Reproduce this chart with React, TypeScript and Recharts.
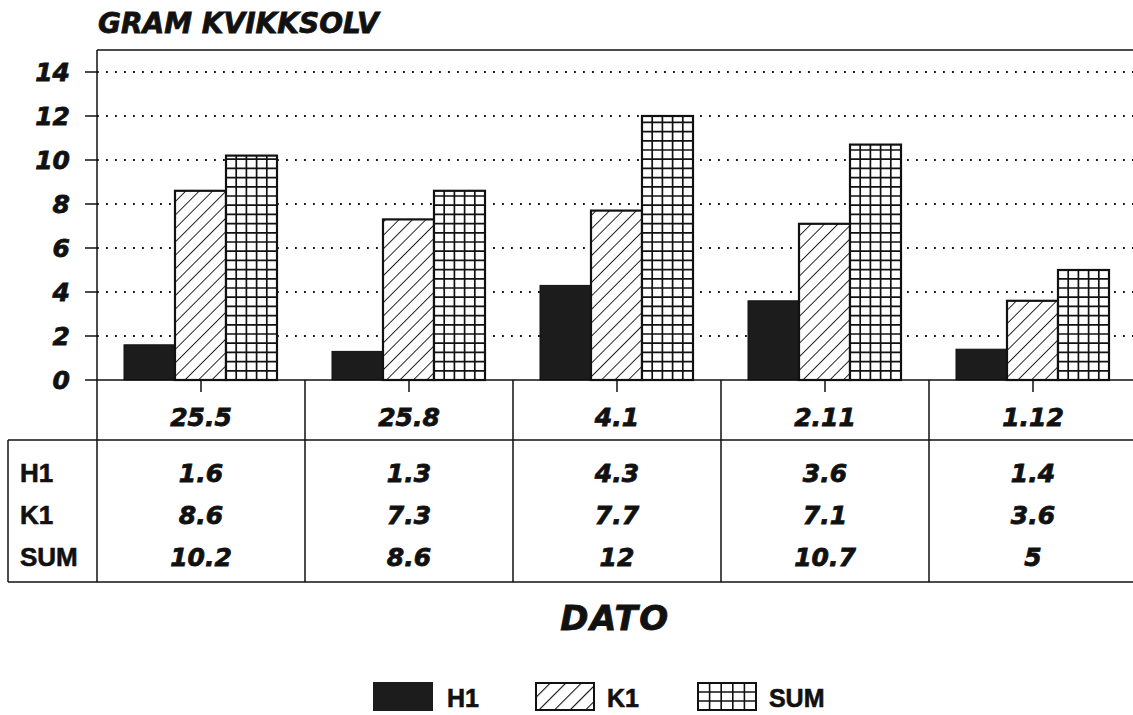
import React from 'react';
import { BarChart, Bar, XAxis, YAxis, CartesianGrid, ReferenceLine, Legend } from 'recharts';

const DATES = ['25.5', '25.8', '4.1', '2.11', '1.12'];
const H1 = [1.6, 1.3, 4.3, 3.6, 1.4];
const K1 = [8.6, 7.3, 7.7, 7.1, 3.6];
const SUM = [10.2, 8.6, 12, 10.7, 5];
const SUM_LABELS = ['10.2', '8.6', '12', '10.7', '5'];
const Y_TICKS = [0, 2, 4, 6, 8, 10, 12, 14];
const ROW_NAMES = ['H1', 'K1', 'SUM'];

const data = DATES.map((d, i) => ({ dato: d, H1: H1[i], K1: K1[i], SUM: SUM[i], sumLabel: SUM_LABELS[i] }));

const INK = '#111';
const NUM_FONT = {
  fontFamily: 'DejaVu Sans',
  fontStyle: 'italic',
  fontWeight: 'bold' as const,
  stroke: INK,
  strokeWidth: 0.8,
};
const LBL_FONT = { fontFamily: 'Liberation Sans', fontWeight: 'bold' as const, stroke: INK, strokeWidth: 0.6 };

const GridShape = (props: any) => {
  const { x, y, width, height } = props;
  if (!height || height <= 0) return null;
  const lines: React.ReactNode[] = [];
  const cols = 5;
  for (let c = 1; c < cols; c++) {
    const lx = x + (width * c) / cols;
    lines.push(<line key={'v' + c} x1={lx} y1={y} x2={lx} y2={y + height} stroke={INK} strokeWidth={1.7} />);
  }
  const step = 9.2;
  for (let yy = y + height - step; yy > y + 2; yy -= step) {
    lines.push(<line key={'h' + yy} x1={x} y1={yy} x2={x + width} y2={yy} stroke={INK} strokeWidth={1.7} />);
  }
  return (
    <g>
      <rect x={x} y={y} width={width} height={height} fill="#fff" />
      {lines}
      <rect x={x} y={y} width={width} height={height} fill="none" stroke={INK} strokeWidth={2.2} />
    </g>
  );
};

const HatchShape = (props: any) => {
  const { x, y, width, height } = props;
  if (!height || height <= 0) return null;
  return (
    <g>
      <rect x={x} y={y} width={width} height={height} fill="url(#hatch)" />
      <rect x={x} y={y} width={width} height={height} fill="none" stroke={INK} strokeWidth={2.2} />
    </g>
  );
};

const SolidShape = (props: any) => {
  const { x, y, width, height } = props;
  if (!height || height <= 0) return null;
  return <rect x={x} y={y} width={width} height={height} fill="#1c1c1c" stroke={INK} strokeWidth={1} />;
};

const TableTick = (props: any) => {
  const { x, y, index, payload } = props;
  const n = props.visibleTicksCount || DATES.length;
  const band = (props.width || 1040) / n;
  const left = x - band / 2;
  const rowY = [473, 515, 557].map((v) => y + (v - 380));
  const vals = [H1[index], K1[index], SUM_LABELS[index]];
  const tableLeft = left - 89;
  return (
    <g>
      <line x1={x} y1={y} x2={x} y2={y + 12} stroke={INK} strokeWidth={1.5} />
      <line x1={left} y1={y} x2={left} y2={y + 202} stroke={INK} strokeWidth={1.5} />
      <text x={x} y={y + 37} textAnchor="middle" dominantBaseline="central" fontSize={25} fill={INK} {...NUM_FONT}>
        {payload.value}
      </text>
      {vals.map((v, r) => (
        <text key={r} x={x} y={rowY[r]} textAnchor="middle" dominantBaseline="central" fontSize={25} fill={INK} {...NUM_FONT}>
          {String(v)}
        </text>
      ))}
      {index === 0 && (
        <g>
          <line x1={tableLeft} y1={y + 60} x2={left + band * n + 20} y2={y + 60} stroke={INK} strokeWidth={1.5} />
          <line x1={tableLeft} y1={y + 202} x2={left + band * n + 20} y2={y + 202} stroke={INK} strokeWidth={1.5} />
          <line x1={tableLeft} y1={y + 60} x2={tableLeft} y2={y + 202} stroke={INK} strokeWidth={1.5} />
          {ROW_NAMES.map((nm, r) => (
            <text key={nm} x={tableLeft + 12} y={rowY[r]} dominantBaseline="central" fontSize={26} fill={INK} {...LBL_FONT}>
              {nm}
            </text>
          ))}
        </g>
      )}
    </g>
  );
};

const YTick = (props: any) => {
  const { x, y, payload } = props;
  return (
    <text x={x} y={y} textAnchor="end" dominantBaseline="central" fontSize={25} fill={INK} {...NUM_FONT}>
      {payload.value}
    </text>
  );
};

const Swatch = ({ kind }: { kind: string }) => {
  if (kind === 'H1') return <svg width={60} height={29}><rect x={0} y={0} width={60} height={29} fill="#1c1c1c" /></svg>;
  if (kind === 'K1')
    return (
      <svg width={60} height={29}>
        <rect x={1} y={1} width={58} height={27} fill="url(#hatchL)" stroke={INK} strokeWidth={2} />
        <defs>
          <pattern id="hatchL" patternUnits="userSpaceOnUse" width={11} height={11} patternTransform="rotate(45)">
            <rect x={0} y={0} width={11} height={11} fill="#fff" />
            <line x1={0} y1={0} x2={0} y2={11} stroke={INK} strokeWidth={2.2} />
          </pattern>
        </defs>
      </svg>
    );
  const v = [1, 2, 3, 4].map((c) => 1 + (58 * c) / 5);
  const h = [1, 2].map((r) => 1 + (27 * r) / 3);
  return (
    <svg width={60} height={29}>
      <rect x={1} y={1} width={58} height={27} fill="#fff" stroke={INK} strokeWidth={2} />
      {v.map((lx) => <line key={'v' + lx} x1={lx} y1={1} x2={lx} y2={28} stroke={INK} strokeWidth={1.6} />)}
      {h.map((ly) => <line key={'h' + ly} x1={1} y1={ly} x2={59} y2={ly} stroke={INK} strokeWidth={1.6} />)}
    </svg>
  );
};

const LegendContent = () => (
  <div style={{ display: 'flex', alignItems: 'center' }}>
    {ROW_NAMES.map((nm, i) => (
      <div key={nm} style={{ display: 'flex', alignItems: 'center', marginRight: i === 0 ? 56 : 58 }}>
        <Swatch kind={nm} />
        <span
          style={{
            marginLeft: nm === 'H1' ? 14 : 12,
            fontSize: 25,
            color: INK,
            fontFamily: 'Liberation Sans',
            fontWeight: 'bold',
            lineHeight: '29px',
            paddingTop: 4,
            WebkitTextStroke: '0.6px #111',
          }}
        >
          {nm}
        </span>
      </div>
    ))}
  </div>
);

export default function App() {
  return (
    <div style={{ position: 'absolute', left: 0, top: 0, width: 1133, height: 715, overflow: 'hidden', background: '#fff' }}>
      <BarChart
        width={1150}
        height={715}
        data={data}
        margin={{ top: 50, right: 13, bottom: 85, left: 0 }}
        barCategoryGap={27}
        barGap={0}
      >
        <defs>
          <pattern id="hatch" patternUnits="userSpaceOnUse" width={9.5} height={9.5} patternTransform="rotate(45)">
            <rect x={0} y={0} width={9.5} height={9.5} fill="#fff" />
            <line x1={0} y1={0} x2={0} y2={9.5} stroke={INK} strokeWidth={1.8} />
          </pattern>
        </defs>
        <CartesianGrid
          vertical={false}
          horizontalValues={[2, 4, 6, 8, 10, 12, 14]}
          stroke={INK}
          strokeWidth={1.8}
          strokeDasharray="1.8 7.2"
        />
        <ReferenceLine y={15} stroke={INK} strokeWidth={1.5} />
        <XAxis
          dataKey="dato"
          height={250}
          tickSize={0}
          tickMargin={0}
          tickLine={false}
          axisLine={{ stroke: INK, strokeWidth: 1.5 }}
          interval={0}
          tick={<TableTick />}
          label={{
            content: (p: any) => {
              const vb = p.viewBox || { x: 97, y: 380, width: 1040, height: 250 };
              return (
                <text x={615} y={vb.y + vb.height} textAnchor="middle" fontSize={34} fill={INK} letterSpacing={1.5} {...NUM_FONT}>
                  DATO
                </text>
              );
            },
          }}
        />
        <YAxis
          width={97}
          domain={[0, 15]}
          ticks={Y_TICKS}
          interval={0}
          tickSize={12}
          tickMargin={15}
          tickLine={{ stroke: INK, strokeWidth: 1.5 }}
          axisLine={{ stroke: INK, strokeWidth: 1.5 }}
          tick={<YTick />}
          label={{
            content: (p: any) => {
              const vb = p.viewBox || { x: 0, y: 50, width: 97 };
              return (
                <text x={vb.x + vb.width + 1} y={vb.y - 17} fontSize={28} fill={INK} {...NUM_FONT}>
                  GRAM KVIKKSOLV
                </text>
              );
            },
          }}
        />
        <Legend
          layout="horizontal"
          verticalAlign="middle"
          align="center"
          content={<LegendContent />}
          wrapperStyle={{ position: 'absolute', left: 373, top: 680, width: 520, height: 29 }}
        />
        <Bar dataKey="H1" name="H1" isAnimationActive={false} shape={<SolidShape />} />
        <Bar dataKey="K1" name="K1" isAnimationActive={false} shape={<HatchShape />} />
        <Bar dataKey="SUM" name="SUM" isAnimationActive={false} shape={<GridShape />} />
      </BarChart>
    </div>
  );
}
